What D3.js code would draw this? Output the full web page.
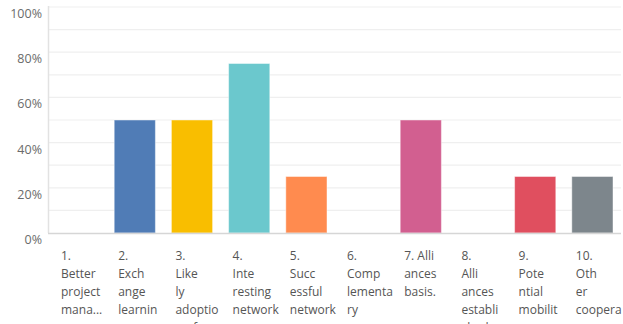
<!DOCTYPE html>
<html>
<head>
<meta charset="utf-8">
<script src="https://cdnjs.cloudflare.com/ajax/libs/d3/7.8.5/d3.min.js"></script>
<style>
  body { margin: 0; background: #fff; overflow: hidden; }
  svg { display: block; font-family: "Open Sans", sans-serif; }
</style>
</head>
<body>
<svg id="chart" width="623" height="324"></svg>
<script>
// answer choices (ids) and their wrapped labels as shown under the bars
var categories = ["1", "2", "3", "4", "5", "6", "7", "8", "9", "10"];
var labelLines = [
  ["1.", "Better", "project", "mana..."],
  ["2.", "Exch", "ange", "learnin"],
  ["3.", "Like", "ly", "adoptio", "n of"],
  ["4.", "Inte", "resting", "network"],
  ["5.", "Succ", "essful", "network"],
  ["6.", "Comp", "lementa", "ry"],
  ["7. Alli", "ances", "basis."],
  ["8.", "Alli", "ances", "establi", "shed"],
  ["9.", "Pote", "ntial", "mobilit"],
  ["10.", "Oth", "er", "coopera"]
];
// share of respondents
var values = [0, 0.5, 0.5, 0.75, 0.25, 0, 0.5, 0, 0.25, 0.25];
var colors = ["#507cb6", "#507cb6", "#f9be00", "#6bc8cd", "#ff8b4f",
              "#7f6ab7", "#d25f90", "#a0c94b", "#e04f5f", "#7d868c"];
var yTicks = [0, 0.2, 0.4, 0.6, 0.8, 1];
var gridTicks = d3.range(1, 11).map(i => i / 10);

var svg = d3.select("#chart");

var x = d3.scaleBand()
  .domain(categories)
  .range([49, 621])
  .paddingInner(0.28)
  .paddingOuter(0.14);

var y = d3.scaleLinear()
  .domain([0, 1])
  .range([233, 7]);

// gridlines every 10%
svg.append("g")
  .selectAll("line")
  .data(gridTicks)
  .enter()
  .append("line")
  .attr("x1", 49)
  .attr("x2", 621)
  .attr("y1", d => y(d))
  .attr("y2", d => y(d))
  .attr("stroke", "#efefef")
  .attr("stroke-width", 1.2);

// left axis line
svg.append("line")
  .attr("x1", 48.5).attr("x2", 48.5)
  .attr("y1", y(1) - 1).attr("y2", y(0))
  .attr("stroke", "#e2e2e2")
  .attr("stroke-width", 1.5);

// y tick labels
svg.append("g")
  .selectAll("text")
  .data(yTicks)
  .enter()
  .append("text")
  .attr("x", 42)
  .attr("y", d => y(d) + 11)
  .attr("text-anchor", "end")
  .attr("fill", "#6b6b6b")
  .attr("font-size", "12.5px")
  .text(d => d3.format(".0%")(d));

// bars (zero values drawn with no height)
svg.append("g")
  .selectAll("rect")
  .data(categories)
  .enter()
  .append("rect")
  .attr("x", d => x(d))
  .attr("y", (d, i) => y(values[i]))
  .attr("width", x.bandwidth())
  .attr("height", (d, i) => y(0) - y(values[i]))
  .attr("fill", (d, i) => colors[i])
  .attr("stroke", "rgba(255,255,255,0.45)")
  .attr("stroke-width", (d, i) => values[i] > 0 ? 1 : 0);

// bottom axis line
svg.append("line")
  .attr("x1", 48).attr("x2", 621)
  .attr("y1", y(0) + 0.5).attr("y2", y(0) + 0.5)
  .attr("stroke", "#d6d6d6")
  .attr("stroke-width", 1.5);

// x labels, wrapped
var labels = svg.append("g")
  .selectAll("text")
  .data(categories)
  .enter()
  .append("text")
  .attr("fill", "#555")
  .attr("font-size", "12px");

labels.each(function (d, i) {
  var t = d3.select(this);
  labelLines[i].forEach((line, j) => {
    t.append("tspan")
      .attr("x", x(d) + 4)
      .attr("y", 260 + j * 18)
      .text(line);
  });
});
</script>
</body>
</html>
